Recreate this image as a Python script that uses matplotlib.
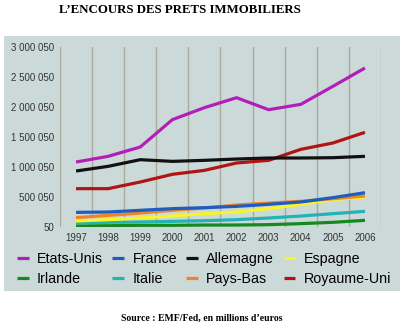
import matplotlib.pyplot as plt
import matplotlib.patches as patches

# Données (en millions d'euros)
years = ['1997', '1998', '1999', '2000', '2001', '2002', '2003', '2004', '2005', '2006']
etats_unis = [1083000, 1178000, 1333000, 1789000, 1989000, 2155000, 1955000, 2044000, 2344000, 2650000]
allemagne = [933000, 1011000, 1122000, 1094000, 1111000, 1133000, 1150000, 1150000, 1155000, 1178000]
royaume_uni = [639000, 639000, 750000, 878000, 944000, 1067000, 1111000, 1294000, 1400000, 1578000]
france = [244000, 250000, 278000, 306000, 322000, 344000, 378000, 417000, 489000, 572000]
pays_bas = [156000, 194000, 233000, 278000, 317000, 367000, 400000, 428000, 472000, 517000]
espagne = [100000, 122000, 150000, 183000, 222000, 250000, 306000, 378000, 456000, 500000]
italie = [67000, 78000, 83000, 94000, 105000, 122000, 150000, 183000, 222000, 261000]
irlande = [17000, 22000, 28000, 28000, 33000, 33000, 39000, 56000, 78000, 111000]
yticks = [50, 500050, 1000050, 1500050, 2000050, 2500050, 3000050]
ytick_labels = ['50', '500 050', '1 000 050', '1 500 050', '2 000 050', '2 500 050', '3 000 050']

fig = plt.figure(figsize=(4.03, 3.31), dpi=100)
W, H = 403, 331

# fond gris du graphique
fig.patches.append(patches.Rectangle((4 / W, 1 - 291 / H), 396 / W, 255 / H,
                                     transform=fig.transFigure, facecolor='#ccd9d9',
                                     edgecolor='none', zorder=-1))

ax = fig.add_axes([60 / W, 1 - 227 / H, 321 / W, 180 / H])
ax.set_zorder(1)
ax.set_facecolor('none')
x = range(len(years))

series = [
    ('Etats-Unis', etats_unis, '#b21fb8'),
    ('Irlande', irlande, '#148a1e'),
    ('France', france, '#1f5cbf'),
    ('Italie', italie, '#22b4b4'),
    ('Allemagne', allemagne, '#111111'),
    ('Pays-Bas', pays_bas, '#f08424'),
    ('Espagne', espagne, '#f5f52a'),
    ('Royaume-Uni', royaume_uni, '#b01414'),
]
order = ['Irlande', 'Italie', 'Espagne', 'Pays-Bas', 'France', 'Royaume-Uni', 'Allemagne', 'Etats-Unis']
handles = {}
for name, vals, col in series:
    ln, = ax.plot(x, vals, color=col, linewidth=2.3, label=name,
                  zorder=3 + order.index(name), solid_capstyle='butt')
    handles[name] = ln

ax.set_xlim(-0.5, 9.5)
ax.set_ylim(50, 3000050)
for i in range(11):
    ax.axvline(i - 0.5, color='#a9aa9c', linewidth=1, zorder=1)

ax.set_xticks(list(x))
ax.set_xticklabels(years)
ax.set_yticks(yticks)
ax.set_yticklabels(ytick_labels)
ax.tick_params(length=0, labelsize=7, labelcolor='#333333', pad=4)
for lab in ax.get_xticklabels() + ax.get_yticklabels():
    lab.set_family('Liberation Sans')
for s in ax.spines.values():
    s.set_visible(False)

names = [s[0] for s in series]
leg = fig.legend([handles[n] for n in names], names, ncol=4, loc='center',
                 bbox_to_anchor=(204 / W, 1 - 269 / H), frameon=False,
                 handlelength=0.8, handletextpad=0.6, columnspacing=0.65,
                 labelspacing=0.45, prop={'family': 'Liberation Sans', 'size': 10.3})

fig.text(180 / W, 1 - 10 / H, 'L’ENCOURS DES PRETS IMMOBILIERS', ha='center', va='center',
         family='Liberation Serif', weight='bold', fontsize=9.3)
fig.text(202 / W, 1 - 318 / H, 'Source : EMF/Fed, en millions d’euros', ha='center', va='center',
         family='Liberation Serif', weight='bold', fontsize=7)

fig.savefig('out.png', dpi=100)
